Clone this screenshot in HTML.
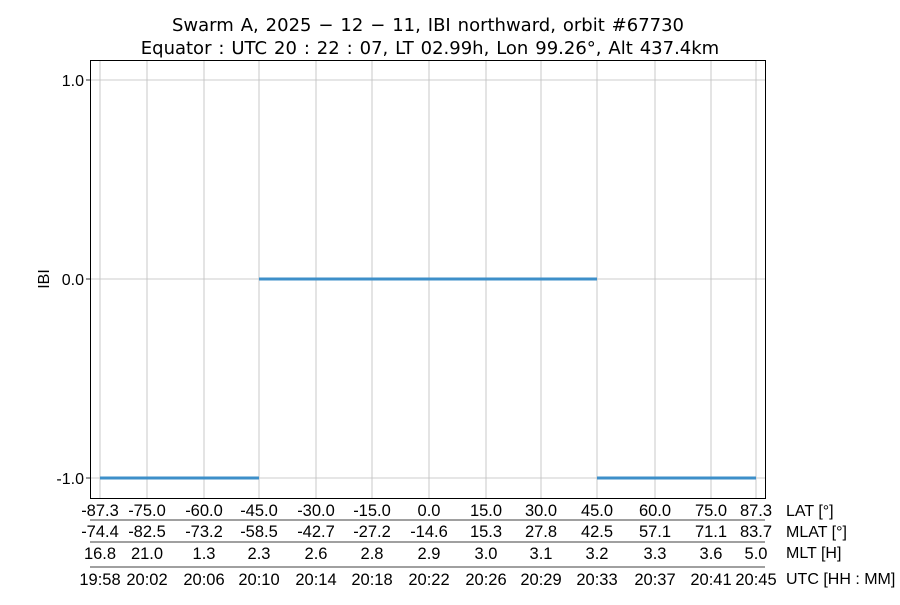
<!DOCTYPE html><html><head><style>body{margin:0;background:#fff}svg text{font-family:"Liberation Sans","DejaVu Sans",sans-serif;fill:#000}svg text.t{font-family:"DejaVu Sans",sans-serif}</style></head><body>
<svg width="900" height="600" xmlns="http://www.w3.org/2000/svg">
<g word-spacing="1.2">
<text class="t" x="428" y="31" font-size="18" text-anchor="middle">Swarm A,  2025 − 12 − 11,  IBI northward,  orbit #67730</text>
<text class="t" x="430" y="54" font-size="18" text-anchor="middle">Equator :  UTC 20 : 22 : 07,  LT 02.99h,  Lon 99.26°,  Alt 437.4km</text>
</g>
<g stroke="#bdbdbd" stroke-width="0.8">
<line x1="100" y1="60" x2="100" y2="498"/><line x1="147" y1="60" x2="147" y2="498"/><line x1="204" y1="60" x2="204" y2="498"/><line x1="259" y1="60" x2="259" y2="498"/><line x1="316" y1="60" x2="316" y2="498"/><line x1="372" y1="60" x2="372" y2="498"/><line x1="429" y1="60" x2="429" y2="498"/><line x1="486" y1="60" x2="486" y2="498"/><line x1="541" y1="60" x2="541" y2="498"/><line x1="597" y1="60" x2="597" y2="498"/><line x1="655" y1="60" x2="655" y2="498"/><line x1="711" y1="60" x2="711" y2="498"/><line x1="756" y1="60" x2="756" y2="498"/>
<line x1="90" y1="80" x2="765" y2="80"/><line x1="90" y1="279" x2="765" y2="279"/><line x1="90" y1="478" x2="765" y2="478"/>
</g>
<g stroke="#3d8fc9" stroke-width="3">
<line x1="100" y1="478" x2="259" y2="478"/><line x1="259" y1="279" x2="597" y2="279"/><line x1="597" y1="478" x2="756" y2="478"/>
</g>
<rect x="90.5" y="60.5" width="675" height="438" fill="none" stroke="#000" stroke-width="1"/>
<g stroke="#000" stroke-width="0.8"><line x1="86" y1="80" x2="90" y2="80"/><line x1="86" y1="279" x2="90" y2="279"/><line x1="86" y1="478" x2="90" y2="478"/>
<line x1="90" y1="520" x2="765" y2="520"/><line x1="90" y1="542" x2="765" y2="542"/><line x1="90" y1="567" x2="765" y2="567"/></g>
<g font-size="16" text-anchor="end"><text x="84" y="86">1.0</text><text x="84" y="285">0.0</text><text x="84" y="484">-1.0</text></g>
<text x="49" y="279" font-size="16" text-anchor="middle" transform="rotate(-90 49 279)">IBI</text>
<g font-size="16.5" text-anchor="middle">
<text x="100" y="516">-87.3</text><text x="147" y="516">-75.0</text><text x="204" y="516">-60.0</text><text x="259" y="516">-45.0</text><text x="316" y="516">-30.0</text><text x="372" y="516">-15.0</text><text x="429" y="516">0.0</text><text x="486" y="516">15.0</text><text x="541" y="516">30.0</text><text x="597" y="516">45.0</text><text x="655" y="516">60.0</text><text x="711" y="516">75.0</text><text x="756" y="516">87.3</text>
<text x="100" y="537">-74.4</text><text x="147" y="537">-82.5</text><text x="204" y="537">-73.2</text><text x="259" y="537">-58.5</text><text x="316" y="537">-42.7</text><text x="372" y="537">-27.2</text><text x="429" y="537">-14.6</text><text x="486" y="537">15.3</text><text x="541" y="537">27.8</text><text x="597" y="537">42.5</text><text x="655" y="537">57.1</text><text x="711" y="537">71.1</text><text x="756" y="537">83.7</text>
<text x="100" y="559">16.8</text><text x="147" y="559">21.0</text><text x="204" y="559">1.3</text><text x="259" y="559">2.3</text><text x="316" y="559">2.6</text><text x="372" y="559">2.8</text><text x="429" y="559">2.9</text><text x="486" y="559">3.0</text><text x="541" y="559">3.1</text><text x="597" y="559">3.2</text><text x="655" y="559">3.3</text><text x="711" y="559">3.6</text><text x="756" y="559">5.0</text>
<text x="100" y="585">19:58</text><text x="147" y="585">20:02</text><text x="204" y="585">20:06</text><text x="259" y="585">20:10</text><text x="316" y="585">20:14</text><text x="372" y="585">20:18</text><text x="429" y="585">20:22</text><text x="486" y="585">20:26</text><text x="541" y="585">20:29</text><text x="597" y="585">20:33</text><text x="655" y="585">20:37</text><text x="711" y="585">20:41</text><text x="756" y="585">20:45</text>
</g>
<g font-size="16"><text x="786" y="516">LAT [°]</text><text x="786" y="537">MLAT [°]</text><text x="786" y="558">MLT [H]</text><text x="786" y="584">UTC [HH : MM]</text></g>
</svg></body></html>
